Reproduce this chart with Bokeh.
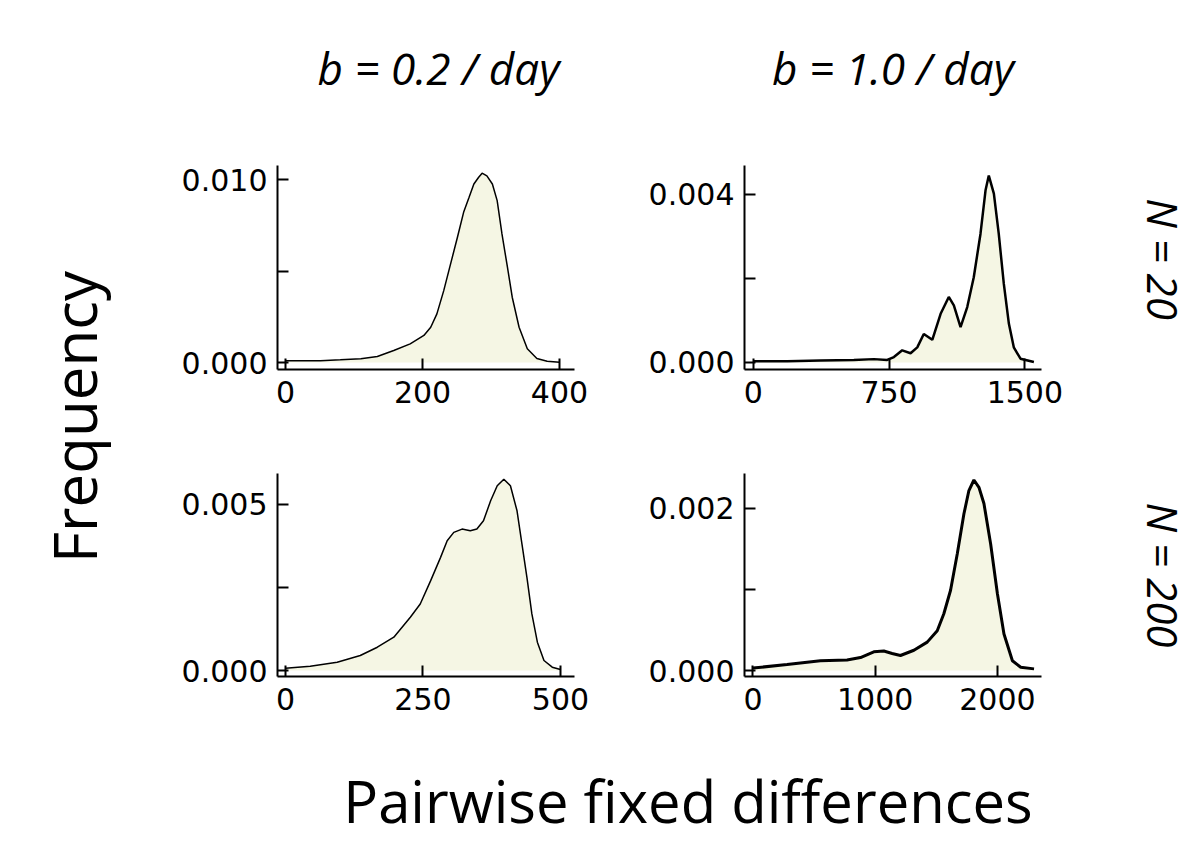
import math
from bokeh.plotting import figure
from bokeh.layouts import row, column
from bokeh.models import Range1d, FixedTicker, PrintfTickFormatter, Label
from bokeh.embed import file_html
from bokeh.resources import INLINE

# ---------------- data ----------------
x_b02_n20 = [0, 25, 51, 80, 110, 134, 158, 182, 202, 212, 221, 231, 241, 251, 260,
             268, 275, 282, 287, 294, 302, 309, 316, 324, 331, 341, 353, 367, 382, 400]
y_b02_n20 = [0.0001, 0.0001, 0.0001, 0.00015, 0.00021, 0.00033, 0.00066, 0.00102,
             0.00148, 0.00193, 0.00266, 0.00393, 0.00539, 0.00685, 0.00821, 0.00903,
             0.00976, 0.01013, 0.01035, 0.0102, 0.00976, 0.00885, 0.00703, 0.00521,
             0.00357, 0.00193, 0.00075, 0.00022, 0.00007, 0.00002]

x_b10_n20 = [0, 188, 372, 556, 666, 740, 777, 823, 869, 906, 942, 989, 1035, 1080,
             1108, 1145, 1182, 1218, 1255, 1283, 1301, 1329, 1356, 1384, 1412, 1439,
             1476, 1550]
y_b10_n20 = [0.00003, 0.00003, 0.00005, 0.00006, 0.00008, 0.00006, 0.00013, 0.00029,
             0.00022, 0.00036, 0.00068, 0.00054, 0.00116, 0.00156, 0.00136, 0.00084,
             0.00132, 0.00203, 0.00306, 0.0041, 0.00445, 0.00402, 0.00306, 0.00187,
             0.00092, 0.00036, 0.00009, 0.00001]

x_b02_n200 = [0, 45, 94, 136, 167, 197, 227, 245, 264, 282, 294, 306, 321, 336, 348,
              360, 373, 385, 397, 409, 421, 430, 439, 448, 458, 470, 485, 500]
y_b02_n200 = [0.00007, 0.00013, 0.00025, 0.00045, 0.0007, 0.001, 0.0016, 0.002,
              0.0027, 0.0034, 0.0039, 0.00415, 0.00425, 0.0042, 0.00425, 0.0045,
              0.0051, 0.00555, 0.00575, 0.00555, 0.0048, 0.0038, 0.0028, 0.0017,
              0.00085, 0.0003, 0.0001, 0.00003]

x_b10_n200 = [0, 279, 552, 770, 880, 989, 1071, 1139, 1207, 1317, 1426, 1508, 1562,
              1617, 1672, 1726, 1767, 1808, 1849, 1890, 1945, 2000, 2054, 2123, 2191, 2300]
y_b10_n200 = [0.00003, 0.000074, 0.00012, 0.00013, 0.00016, 0.00023, 0.00024, 0.00021,
              0.000185, 0.00025, 0.00035, 0.00049, 0.0007, 0.00099, 0.00144, 0.00193,
              0.00222, 0.00235, 0.00226, 0.00206, 0.00156, 0.00095, 0.00045, 0.00012,
              0.00004, 0.00002]

col_titles = ["b = 0.2 / day", "b = 1.0 / day"]
row_titles = ["N = 20", "N = 200"]
x_label = "Pairwise fixed differences"
y_label = "Frequency"

xticks_b02_n20 = [0, 200, 400]
yticks_b02_n20 = [0.0, 0.010]
yminor_b02_n20 = [0.005]
xticks_b10_n20 = [0, 750, 1500]
yticks_b10_n20 = [0.0, 0.004]
yminor_b10_n20 = [0.002]
xticks_b02_n200 = [0, 250, 500]
yticks_b02_n200 = [0.0, 0.005]
yminor_b02_n200 = [0.0025]
xticks_b10_n200 = [0, 1000, 2000]
yticks_b10_n200 = [0.0, 0.002]
yminor_b10_n200 = [0.001]

# ---------------- styling ----------------
FILL = "#f5f6e4"
TICK_FONT = "DejaVu Sans"
TICK_SIZE = "30px"
LABEL_FONT = "Open Sans"
FW = 297


def panel(x, y, xr, yr, xt, yt, ym, fh, left, right, top, bottom, lw):
    p = figure(frame_width=FW, frame_height=fh,
               x_range=Range1d(*xr), y_range=Range1d(*yr),
               min_border_left=left, min_border_right=right,
               min_border_top=top, min_border_bottom=bottom,
               toolbar_location=None, output_backend="svg")
    p.outline_line_color = None
    p.xgrid.grid_line_color = None
    p.ygrid.grid_line_color = None
    p.varea(x=x, y1=0, y2=y, fill_color=FILL)
    p.line(x, y, line_color="black", line_width=lw)
    for ax in (p.xaxis[0], p.yaxis[0]):
        ax.axis_line_width = 2
        ax.axis_line_color = "black"
        ax.major_tick_in = 11
        ax.major_tick_out = 0
        ax.major_tick_line_width = 2
        ax.minor_tick_in = 11
        ax.minor_tick_out = 0
        ax.minor_tick_line_width = 2
        ax.major_label_text_font = TICK_FONT
        ax.major_label_text_font_size = TICK_SIZE
        ax.major_label_text_color = "black"
    p.xaxis[0].ticker = FixedTicker(ticks=xt, minor_ticks=[])
    p.xaxis[0].major_label_standoff = 11
    p.yaxis[0].ticker = FixedTicker(ticks=yt, minor_ticks=ym)
    p.yaxis[0].formatter = PrintfTickFormatter(format="%.3f")
    p.yaxis[0].major_label_standoff = 10
    return p


p1 = panel(x_b02_n20, y_b02_n20, (-11.7, 421.9), (-0.00038, 0.01077),
           xticks_b02_n20, yticks_b02_n20, yminor_b02_n20, 204, 147, 30, 45, 50, 1.5)
p2 = panel(x_b10_n20, y_b10_n20, (-48, 1592), (-0.000167, 0.00469),
           xticks_b10_n20, yticks_b10_n20, yminor_b10_n20, 204, 140, 50, 45, 50, 2.5)
p3 = panel(x_b02_n200, y_b02_n200, (-14.5, 525.5), (-0.00018, 0.00592),
           xticks_b02_n200, yticks_b02_n200, yminor_b02_n200, 203, 147, 30, 54, 70, 1.5)
p4 = panel(x_b10_n200, y_b10_n200, (-69, 2361), (-0.000074, 0.00243),
           xticks_b10_n200, yticks_b10_n200, yminor_b10_n200, 203, 140, 50, 54, 70, 3.0)


def label_fig(w, h):
    f = figure(width=w, height=h, x_range=Range1d(0, 1), y_range=Range1d(0, 1),
               min_border=0, x_axis_location=None, y_axis_location=None,
               toolbar_location=None, output_backend="svg")
    f.outline_line_color = None
    f.grid.visible = False
    return f


def add_text(f, x, y, text, size, angle=0.0, italic=False):
    f.add_layout(Label(x=x, y=y, x_units="screen", y_units="screen", text=text,
                       angle=angle, text_font=LABEL_FONT,
                       text_font_style="italic" if italic else "normal",
                       text_font_size=size, text_align="center",
                       text_baseline="middle", text_color="black"))


# top strip: column titles
tf = label_fig(1195, 120)
add_text(tf, 438, 53, col_titles[0], "44px", italic=True)
add_text(tf, 892.5, 53, col_titles[1], "44px", italic=True)

# left strip: y label
lf = label_fig(130, 626)
add_text(lf, 73, 329.5, y_label, "60px", angle=math.pi / 2)

# right strip: row titles
rf = label_fig(104, 626)
add_text(rf, 72, 487.5, row_titles[0], "42px", angle=-math.pi / 2, italic=True)
add_text(rf, 72, 171.5, row_titles[1], "42px", angle=-math.pi / 2, italic=True)

# bottom strip: x label
bf = label_fig(1195, 95)
add_text(bf, 687.5, 41, x_label, "58px")

grid = column(row(p1, p2), row(p3, p4))
page = column(tf, row(lf, grid, rf), bf)

open("out.html", "w").write(file_html(page, INLINE))
